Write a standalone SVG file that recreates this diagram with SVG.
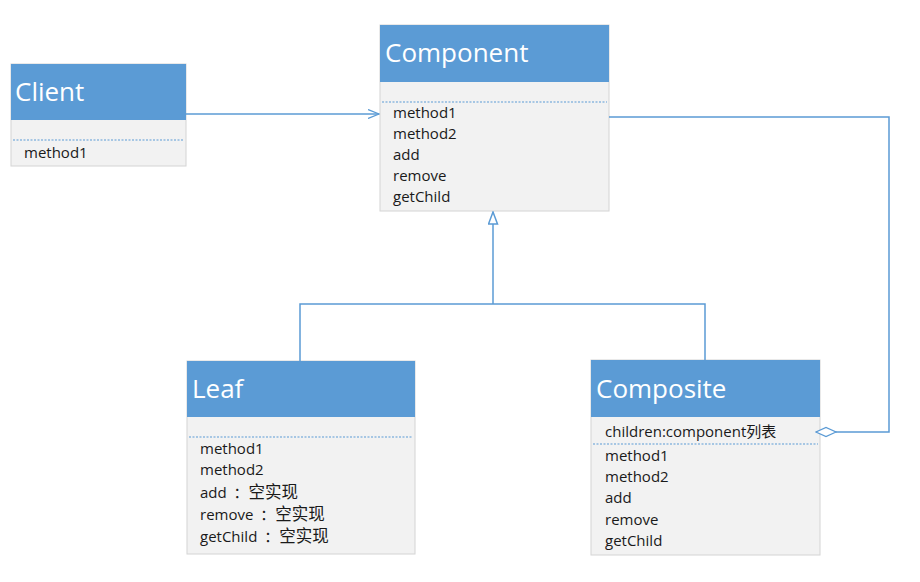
<svg xmlns="http://www.w3.org/2000/svg" width="920" height="582" viewBox="0 0 920 582">
<defs>
<style>
.hdr{fill:#5B9BD5;}
.body{fill:#F2F2F2;stroke:#D4D4D4;stroke-width:1;}
.title{font-family:"Open Sans","Noto Sans CJK SC",sans-serif;font-size:26px;fill:#FFFFFF;}
.t{font-family:"Open Sans","Noto Sans CJK SC",sans-serif;font-size:15px;fill:#1A1A1A;}
.cjk{font-family:"Noto Sans CJK SC",sans-serif;font-size:16.5px;}
.colon{font-family:"Noto Sans CJK SC",sans-serif;font-size:15px;}
.dot{stroke:#5B9BD5;stroke-width:1;stroke-dasharray:2 1.5;fill:none;}
.conn{stroke:#5B9BD5;stroke-width:1.5;fill:none;}
</style>
<marker id="openArrow" viewBox="0 0 12 10" refX="11" refY="5" markerWidth="12" markerHeight="10" markerUnits="userSpaceOnUse" orient="auto">
<path d="M0,0.5 L11,5 L0,9.5" fill="none" stroke="#5B9BD5" stroke-width="1.3"/>
</marker>
<marker id="hollowTri" viewBox="0 0 14 11" refX="13" refY="5.5" markerWidth="14" markerHeight="11" markerUnits="userSpaceOnUse" orient="auto">
<path d="M1,1 L13,5.5 L1,10 Z" fill="#FFFFFF" stroke="#5B9BD5" stroke-width="1.5"/>
</marker>
<marker id="diamond" viewBox="0 0 22 12" refX="21" refY="6" markerWidth="22" markerHeight="12" markerUnits="userSpaceOnUse" orient="auto">
<path d="M1,6 L11,1.5 L21,6 L11,10.5 Z" fill="#FFFFFF" stroke="#5B9BD5" stroke-width="1.3"/>
</marker>
</defs>
<rect width="920" height="582" fill="#FFFFFF"/>

<g id="client">
<rect class="body" x="11" y="64" width="175" height="102"/>
<rect class="hdr" x="11" y="64" width="175" height="56"/>
<text class="title" x="15" y="101">Client</text>
<line class="dot" x1="13" y1="140" x2="184" y2="140"/>
<text class="t" x="24" y="158">method1</text>
</g>

<g id="component">
<rect class="body" x="380" y="25" width="229" height="186"/>
<rect class="hdr" x="380" y="25" width="229" height="57"/>
<text class="title" x="385" y="62">Component</text>
<line class="dot" x1="382" y1="102" x2="607" y2="102"/>
<text class="t" x="393" y="118">method1</text>
<text class="t" x="393" y="139">method2</text>
<text class="t" x="393" y="160">add</text>
<text class="t" x="393" y="181">remove</text>
<text class="t" x="393" y="202">getChild</text>
</g>

<g id="leaf">
<rect class="body" x="187" y="361" width="228" height="193"/>
<rect class="hdr" x="187" y="361" width="228" height="56"/>
<text class="title" x="192" y="398">Leaf</text>
<line class="dot" x1="189" y1="437" x2="413" y2="437"/>
<text class="t" x="200" y="454">method1</text>
<text class="t" x="200" y="475">method2</text>
<text class="t" x="200" y="498">add <tspan class="colon" dx="3">：</tspan><tspan class="cjk">空实现</tspan></text>
<text class="t" x="200" y="520">remove <tspan class="colon" dx="3">：</tspan><tspan class="cjk">空实现</tspan></text>
<text class="t" x="200" y="542">getChild <tspan class="colon" dx="3">：</tspan><tspan class="cjk">空实现</tspan></text>
</g>

<g id="composite">
<rect class="body" x="591" y="360" width="229" height="195"/>
<rect class="hdr" x="591" y="360" width="229" height="57"/>
<text class="title" x="596" y="398">Composite</text>
<text class="t" x="605" y="437">children:component列表</text>
<line class="dot" x1="593" y1="444" x2="818" y2="444"/>
<text class="t" x="605" y="461">method1</text>
<text class="t" x="605" y="482">method2</text>
<text class="t" x="605" y="503">add</text>
<text class="t" x="605" y="525">remove</text>
<text class="t" x="605" y="546">getChild</text>
</g>

<g id="connectors">
<line class="conn" x1="186" y1="114" x2="379" y2="114" marker-end="url(#openArrow)"/>
<polyline class="conn" points="300,361 300,304 705,304 705,360"/>
<line class="conn" x1="493" y1="304" x2="493" y2="212" marker-end="url(#hollowTri)"/>
<polyline class="conn" points="609,117 889,117 889,432 816,432" marker-end="url(#diamond)"/>
</g>
</svg>
